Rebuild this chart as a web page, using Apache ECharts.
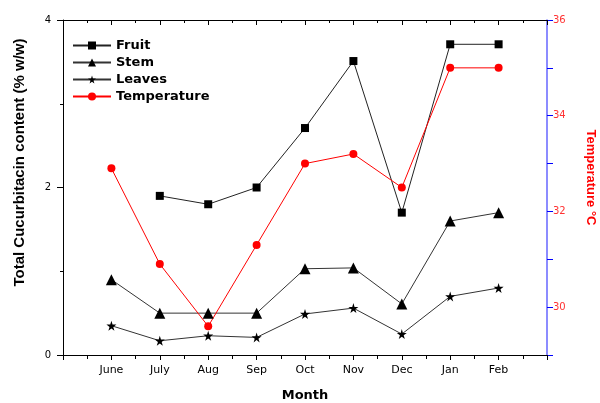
<!DOCTYPE html>
<html>
<head>
<meta charset="utf-8">
<script src="https://cdn.jsdelivr.net/npm/echarts@6/dist/echarts.min.js"></script>
<style>
  html, body { margin: 0; padding: 0; background: #fff; }
  #main { width: 600px; height: 403px; }
</style>
</head>
<body>
<div id="main"></div>
<script>
var months = ['June', 'July', 'Aug', 'Sep', 'Oct', 'Nov', 'Dec', 'Jan', 'Feb'];
var fruit = [null, 1.9, 1.8, 2.0, 2.71, 3.51, 1.7, 3.71, 3.71];
var stem = [0.9, 0.5, 0.5, 0.5, 1.03, 1.04, 0.61, 1.6, 1.7];
var leaves = [0.35, 0.17, 0.23, 0.21, 0.49, 0.56, 0.25, 0.7, 0.8];
var temperature = [32.9, 30.9, 29.6, 31.3, 33.0, 33.2, 32.5, 35.0, 35.0];

var star = 'path://M50 0 L61 35 L98 35 L68 57 L79 91 L50 70 L21 91 L32 57 L2 35 L39 35 Z';

function pairs(arr) {
    return arr.map(function (v, i) {
        return [i + 1, v == null ? '-' : v];
    });
}

var chartDom = document.getElementById('main');
var myChart = echarts.init(chartDom);
var option;

var monthLabel = function (v) {
    return months[v - 1] || '';
};
// only even temperatures are labelled
var tempLabel = function (v) {
    return v % 2 === 0 ? String(v) : '';
};

option = {
    animation: false,
    grid: [
        { left: 63, right: 53, top: 20, bottom: 48, outerBoundsMode: 'none', containLabel: false },
        // thin strip on the right edge, only used to draw the blue temperature ticks
        { left: 547, right: 52, top: 20, bottom: 48, outerBoundsMode: 'none', containLabel: false }
    ],
    legend: {
        orient: 'vertical',
        left: 67,
        top: 34,
        itemWidth: 38,
        itemHeight: 10,
        itemGap: 4,
        textStyle: { fontFamily: 'DejaVu Sans', fontWeight: 'bold', fontSize: 13, color: '#000' },
        data: ['Fruit', 'Stem', 'Leaves', 'Temperature']
    },
    xAxis: [{
        type: 'value',
        min: 0,
        max: 10,
        interval: 1,
        name: 'Month',
        nameLocation: 'middle',
        nameGap: 34,
        nameTextStyle: { fontFamily: 'DejaVu Sans', fontWeight: 'bold', fontSize: 13, color: '#000' },
        axisLine: { onZero: false, lineStyle: { color: '#000' } },
        axisTick: { length: 5, lineStyle: { color: '#000' } },
        minorTick: { show: true, splitNumber: 2, length: 4, lineStyle: { color: '#000' } },
        splitLine: { show: false },
        axisLabel: { formatter: monthLabel, fontFamily: 'DejaVu Sans', fontSize: 11, color: '#000', margin: 10 }
    }, {
        type: 'value',
        position: 'top',
        min: 0,
        max: 10,
        interval: 1,
        axisLine: { onZero: false, lineStyle: { color: '#000' } },
        axisTick: { inside: true, length: 5, lineStyle: { color: '#000' } },
        minorTick: { show: true, splitNumber: 2, length: 3, lineStyle: { color: '#000' } },
        splitLine: { show: false },
        axisLabel: { show: false }
    }, {
        type: 'value',
        gridIndex: 1,
        min: 0,
        max: 1,
        show: false
    }],
    yAxis: [{
        type: 'value',
        min: 0,
        max: 4,
        interval: 2,
        name: 'Total Cucurbitacin content (% w/w)',
        nameLocation: 'middle',
        nameGap: 36,
        nameTextStyle: { fontFamily: 'Liberation Sans', fontWeight: 'bold', fontSize: 15, color: '#000', padding: [0, 0, 0, 50] },
        axisLine: { show: true, onZero: false, lineStyle: { color: '#000' } },
        axisTick: { show: true, length: 6, lineStyle: { color: '#000' } },
        minorTick: { show: true, splitNumber: 2, length: 3, lineStyle: { color: '#000' } },
        splitLine: { show: false },
        axisLabel: { fontFamily: 'DejaVu Sans', fontSize: 10, color: '#000', margin: 12 }
    }, {
        type: 'value',
        position: 'right',
        min: 29,
        max: 36,
        interval: 1,
        name: 'Temperature °C',
        nameLocation: 'middle',
        nameRotate: -90,
        nameGap: 37,
        nameTextStyle: { fontFamily: 'Liberation Sans', fontWeight: 'bold', fontSize: 13, color: '#ff0000', padding: [0, 20, 0, 0] },
        axisLine: { show: true, onZero: false, lineStyle: { color: '#6666ff', width: 1.5 } },
        axisTick: { show: true, length: 6, lineStyle: { color: '#0000ff' } },
        splitLine: { show: false },
        axisLabel: { formatter: tempLabel, fontFamily: 'DejaVu Sans', fontSize: 10, color: '#ff3333', margin: 6 }
    }, {
        type: 'value',
        gridIndex: 1,
        position: 'left',
        min: 29,
        max: 36,
        interval: 1,
        axisLine: { show: false, onZero: false },
        axisTick: { show: true, inside: true, length: 5, lineStyle: { color: '#0000ff', width: 1 } },
        splitLine: { show: false },
        axisLabel: { show: false }
    }],
    series: [{
        name: 'Fruit',
        type: 'line',
        data: pairs(fruit),
        symbol: 'rect',
        symbolSize: 8,
        itemStyle: { color: '#000' },
        lineStyle: { color: '#222', width: 1 }
    }, {
        name: 'Stem',
        type: 'line',
        data: pairs(stem),
        symbol: 'triangle',
        symbolSize: 11,
        itemStyle: { color: '#000' },
        lineStyle: { color: '#333', width: 1 }
    }, {
        name: 'Leaves',
        type: 'line',
        data: pairs(leaves),
        symbol: star,
        symbolSize: 10,
        itemStyle: { color: '#000' },
        lineStyle: { color: '#333', width: 1 }
    }, {
        name: 'Temperature',
        type: 'line',
        yAxisIndex: 1,
        data: pairs(temperature),
        symbol: 'circle',
        symbolSize: 8,
        itemStyle: { color: '#ff0000' },
        lineStyle: { color: '#ff0000', width: 1 }
    }]
};

option && myChart.setOption(option);
</script>
</body>
</html>
